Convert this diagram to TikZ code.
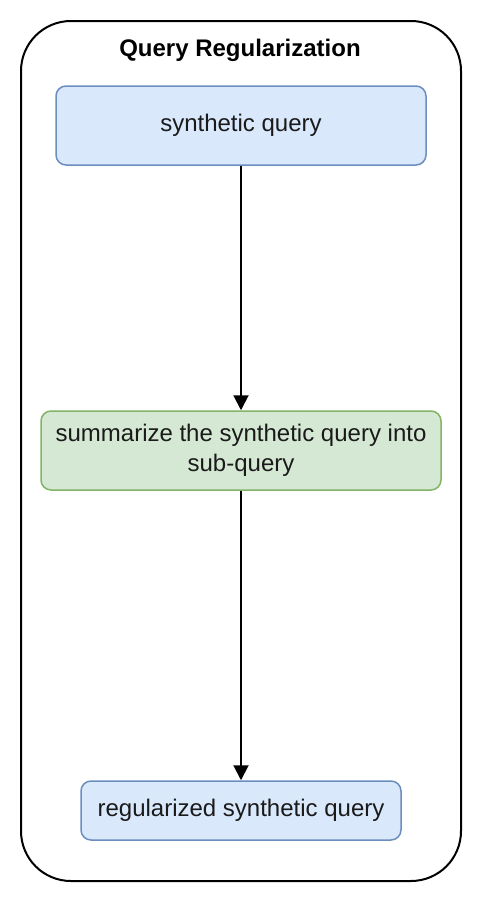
\documentclass[tikz,border=0pt]{standalone}
\usepackage{fontspec}
\setmainfont{Liberation Sans}
\usetikzlibrary{arrows.meta}
\definecolor{bluefill}{HTML}{DAE8FC}
\definecolor{bluedraw}{HTML}{6C8EBF}
\definecolor{greenfill}{HTML}{D5E8D4}
\definecolor{greendraw}{HTML}{82B366}
\definecolor{txt}{HTML}{1A1A1A}
\tikzset{
  bluebox/.style={draw=bluedraw, fill=bluefill, line width=1.5pt, rounded corners=10pt, inner sep=0pt, align=center, font=\fontsize{24}{30}\selectfont, text=txt},
  greenbox/.style={draw=greendraw, fill=greenfill, line width=1.5pt, rounded corners=10pt, inner sep=0pt, align=center, font=\fontsize{24}{30}\selectfont, text=txt},
  flow/.style={line width=2pt, -{Triangle[length=15pt,width=15pt]}}
}
\begin{document}
\begin{tikzpicture}[x=1pt,y=-1pt]
\useasboundingbox (0,0) rectangle (482,902);
\fill[white] (0,0) rectangle (482,902);
\draw[line width=2pt, rounded corners=50pt] (21,21) rectangle (461,881);
\node[font=\bfseries\fontsize{24}{28}\selectfont] (title) at (240,50) {Query Regularization};
\node[bluebox, minimum width=370pt, minimum height=79pt] (q) at (241,125.5) {synthetic query};
\node[greenbox, minimum width=400pt, minimum height=79pt] (s) at (241,450.5) {summarize the synthetic query into\\sub-query};
\node[bluebox, minimum width=320pt, minimum height=59pt] (r) at (241,810.5) {regularized synthetic query};
\draw[flow] (q.south) -- (s.north);
\draw[flow] (s.south) -- (r.north);
\end{tikzpicture}
\end{document}
